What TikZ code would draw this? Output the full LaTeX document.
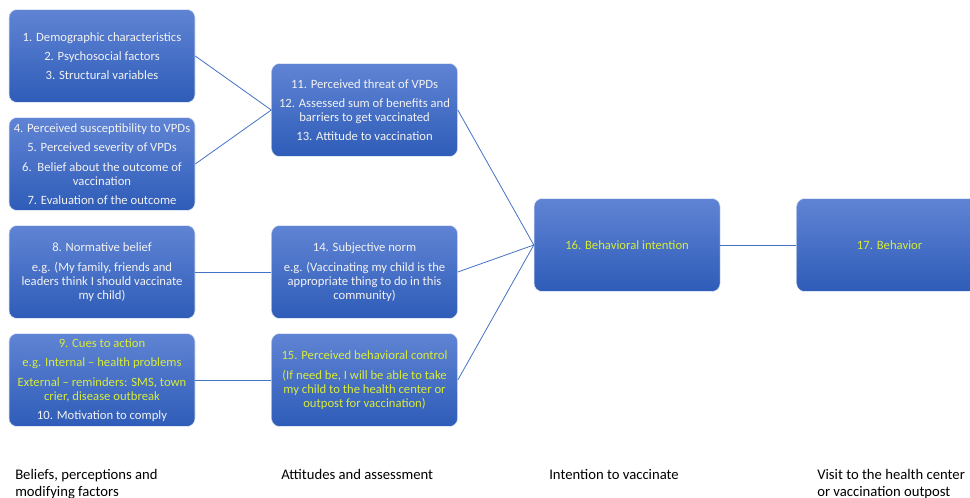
\documentclass[tikz,border=0pt]{standalone}
\usepackage{fontspec}
\setmainfont{Carlito}
\definecolor{boxtop}{RGB}{96,132,212}
\definecolor{boxbottom}{RGB}{46,92,184}
\definecolor{boxtext}{RGB}{242,242,242}
\definecolor{cue}{RGB}{215,235,60}
\definecolor{linkblue}{RGB}{68,114,196}

\begin{document}
\begin{tikzpicture}[node distance=196.9pt,
  block/.style={draw=white!80!boxtop, line width=0.4pt, rounded corners=6pt, top color=boxtop, bottom color=boxbottom, minimum width=139.5pt, minimum height=69.75pt, inner sep=0pt, align=center, text=boxtext, font=\fontsize{9.5}{10.5}\selectfont},
  link/.style={line width=0.6pt, color=linkblue},
  caption/.style={anchor=north west, align=left, inner sep=0pt, font=\fontsize{11}{12.75}\selectfont}]

  \useasboundingbox (0,0) rectangle (727.5pt,372.75pt);

  % First column
  \node[block] (C1) at (76.5pt,330.75pt) {1. Demographic characteristics\\[4pt] 2. Psychosocial factors\\[4pt] 3. Structural variables};
  \node[block, node distance=81pt, below of=C1] (C2) {4. Perceived susceptibility to VPDs\\[4pt] 5. Perceived severity of VPDs\\[4pt] 6.\ \ Belief about the outcome of\\ vaccination\\[4pt] 7. Evaluation of the outcome};
  \node[block, node distance=81pt, below of=C2] (C3) {8. Normative belief\\[4pt] e.g. (My family, friends and\\ leaders think I should vaccinate\\ my child)};
  \node[block, node distance=81pt, below of=C3] (C4) {\textcolor{cue}{9. Cues to action}\\[4pt] \textcolor{cue}{e.g. Internal -- health problems}\\[4pt] \textcolor{cue}{External -- reminders: SMS, town}\\ \textcolor{cue}{crier, disease outbreak}\\[4pt] 10. Motivation to comply};

  % Second column
  \node[block, right of=C1, yshift=-40.5pt] (D1) {11. Perceived threat of VPDs\\[4pt] 12. Assessed sum of benefits and\\ barriers to get vaccinated\\[4pt] 13. Attitude to vaccination};
  \node[block, right of=C3] (D2) {14. Subjective norm\\[4pt] e.g. (Vaccinating my child is the\\ appropriate thing to do in this\\ community)};
  \node[block, right of=C4, text=cue] (D3) {15. Perceived behavioral control\\[4pt] (If need be, I will be able to take\\ my child to the health center or\\ outpost for vaccination)};

  % Intention and behavior
  \node[block, right of=D2, yshift=20.25pt, text=cue] (E1) {16. Behavioral intention};
  \node[block, right of=E1, text=cue] (F1) {17. Behavior};

  % Links
  \draw[link] (C1.east) -- (D1.west);
  \draw[link] (C2.east) -- (D1.west);
  \draw[link] (C3.east) -- (D2.west);
  \draw[link] (C4.east) -- (D3.west);
  \draw[link] (D1.east) -- (E1.west);
  \draw[link] (D2.east) -- (E1.west);
  \draw[link] (D3.east) -- (E1.west);
  \draw[link] (E1.east) -- (F1.west);

  % Stage captions
  \node[caption] (T1) at (11.25pt,21pt) {Beliefs, perceptions and\\ modifying factors};
  \node[caption] (T2) at (210.75pt,21pt) {Attitudes and assessment};
  \node[caption] (T3) at (411.75pt,21pt) {Intention to vaccinate};
  \node[caption] (T4) at (612.75pt,21pt) {Visit to the health center\\ or vaccination outpost};

\end{tikzpicture}
\end{document}
